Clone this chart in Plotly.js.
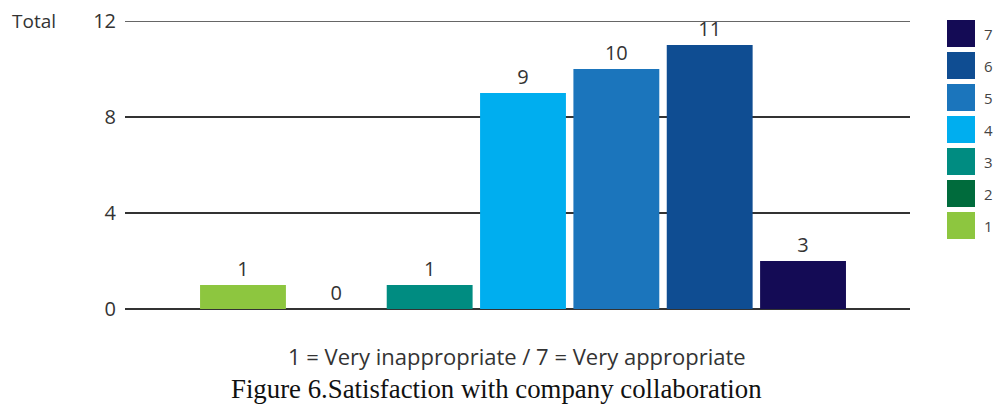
<!DOCTYPE html>
<html><head><meta charset="utf-8">
<script src="https://cdn.plot.ly/plotly-3.0.1.min.js"></script>
<style>html,body{margin:0;padding:0;background:#fff}#chart{width:994px;height:410px}</style>
</head><body><div id="chart"></div>
<script>
const categories = [1, 2, 3, 4, 5, 6, 7];
const values = [1, 0, 1, 9, 10, 11, 2];
const valueLabels = ["1", "0", "1", "9", "10", "11", "3"];
const colors = ["#8dc63f", "#006b3c", "#008c81", "#00aeef", "#1b75bc", "#0f4d92", "#140b55"];
const legendLabels = ["1", "2", "3", "4", "5", "6", "7"];
const yTicks = [0, 4, 8, 12];

const W = 994, H = 410, L = 125, R = 84, T = 21, B = 101;
const pw = W - L - R, ph = H - T - B;
const px = x => (x - L) / pw;
const py = y => (H - B - y) / ph;

const font = "'Open Sans', Lato, sans-serif";
const shapes = [], annotations = [];
// top gridline at 12
shapes.push({type: 'line', xref: 'paper', yref: 'y', x0: 0, x1: 1, y0: yTicks[yTicks.length - 1], y1: yTicks[yTicks.length - 1],
  line: {color: '#333', width: 1.5}});
// custom legend, 7 on top
for (let i = 0; i < categories.length; i++) {
  const k = categories.length - 1 - i;
  const top = 20 + i * 32;
  shapes.push({type: 'rect', xref: 'paper', yref: 'paper',
    x0: px(947), x1: px(975), y0: py(top + 27), y1: py(top),
    fillcolor: colors[k], line: {width: 0}});
  annotations.push({xref: 'paper', yref: 'paper', x: px(982), y: py(top + 14),
    xanchor: 'left', yanchor: 'middle', showarrow: false, text: legendLabels[k],
    font: {family: font, size: 15, color: '#444'}});
}
annotations.push({xref: 'paper', yref: 'paper', x: px(10), y: py(21), xanchor: 'left', yanchor: 'middle',
  showarrow: false, text: 'Total', font: {family: font, size: 19, color: '#333'}});
annotations.push({xref: 'paper', yref: 'paper', x: px(517), y: py(356), xanchor: 'center', yanchor: 'middle',
  showarrow: false, text: '1 = Very inappropriate / 7 = Very appropriate', font: {family: font, size: 22, color: '#333'}});
annotations.push({xref: 'paper', yref: 'paper', x: px(496), y: py(389), xanchor: 'center', yanchor: 'middle',
  showarrow: false, text: 'Figure 6.Satisfaction with company collaboration', font: {family: "'Liberation Serif', 'Times New Roman', serif", size: 26.8, color: '#111'}});

const trace = {
  type: 'bar', x: categories, y: values, width: 0.92,
  marker: {color: colors, line: {width: 0}},
  text: valueLabels, textposition: 'outside', texttemplate: '%{text}',
  textfont: {family: font, size: 20, color: '#333'}, cliponaxis: false,
  hoverinfo: 'skip', showlegend: false
};

const layout = {
  width: W, height: H, margin: {l: L, r: R, t: T, b: B},
  paper_bgcolor: '#fff', plot_bgcolor: '#fff', showlegend: false,
  xaxis: {range: [-0.264, 8.146], showticklabels: false, showgrid: false, zeroline: false, ticks: '', fixedrange: true},
  yaxis: {range: [0, 12], tickvals: yTicks, ticktext: yTicks.map(String), showgrid: true, gridcolor: '#333', gridwidth: 1.3,
    zeroline: true, zerolinecolor: '#333', zerolinewidth: 1.5, ticks: '', ticklabelstandoff: 8,
    tickfont: {family: font, size: 20, color: '#333'}, fixedrange: true},
  shapes: shapes, annotations: annotations
};
Plotly.newPlot('chart', [trace], layout, {displayModeBar: false, staticPlot: true});
</script></body></html>
